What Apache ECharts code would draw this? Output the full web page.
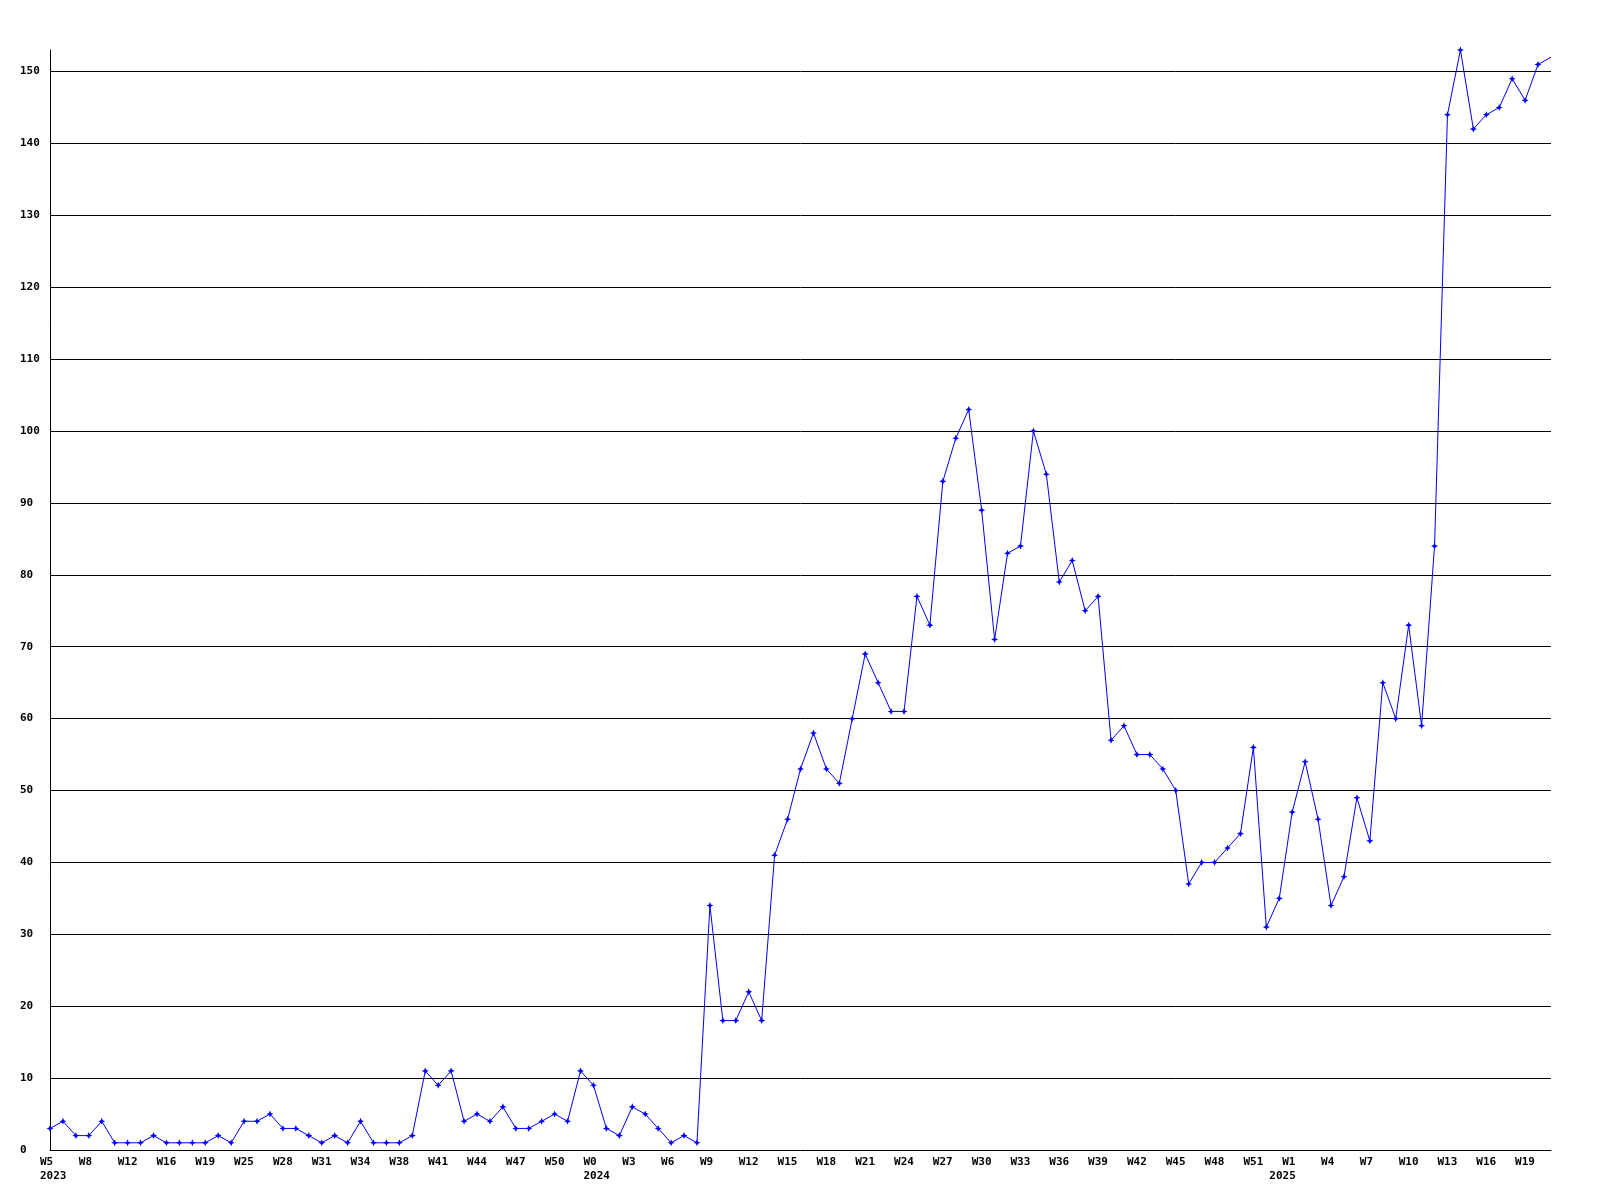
<!DOCTYPE html>
<html>
<head>
<meta charset="utf-8">
<script src="https://cdn.jsdelivr.net/npm/echarts@6/dist/echarts.min.js"></script>
<style>
  html, body { margin: 0; padding: 0; background: #ffffff; }
  #chart { width: 1600px; height: 1200px; }
</style>
</head>
<body>
<div id="chart"></div>
<script>
// Week categories (one per data point); only every third one is labelled
const weeks = [
  'W5','W6','W7','W8','W9','W10','W12','W13','W14','W16','W17','W18','W19','W20','W22',
  'W25','W26','W27','W28','W29','W30','W31','W32','W33','W34','W35','W36','W38','W39','W40',
  'W41','W42','W43','W44','W45','W46','W47','W48','W49','W50','W51','W52',
  'W0','W1','W2','W3','W4','W5','W6','W7','W8','W9','W10','W11','W12','W13','W14','W15',
  'W16','W17','W18','W19','W20','W21','W22','W23','W24','W25','W26','W27','W28','W29','W30',
  'W31','W32','W33','W34','W35','W36','W37','W38','W39','W40','W41','W42','W43','W44','W45',
  'W46','W47','W48','W49','W50','W51','W52',
  'W0','W1','W2','W3','W4','W5','W6','W7','W8','W9','W10','W11','W12','W13','W14','W15',
  'W16','W17','W18','W19','W20','W21'
];

// Year captions and the category index where each year starts
const yearStarts = [0, 42, 95];
const yearLabels = ['2023', '2024', '2025'];

// Weekly values
const values = [
  3, 4, 2, 2, 4, 1, 1, 1, 2, 1, 1, 1, 1, 2, 1,
  4, 4, 5, 3, 3, 2, 1, 2, 1, 4, 1, 1, 1, 2, 11,
  9, 11, 4, 5, 4, 6, 3, 3, 4, 5, 4, 11,
  9, 3, 2, 6, 5, 3, 1, 2, 1, 34, 18, 18, 22, 18, 41, 46,
  53, 58, 53, 51, 60, 69, 65, 61, 61, 77, 73, 93, 99, 103, 89,
  71, 83, 84, 100, 94, 79, 82, 75, 77, 57, 59, 55, 55, 53, 50,
  37, 40, 40, 42, 44, 56, 31,
  35, 47, 54, 46, 34, 38, 49, 43, 65, 60, 73, 59, 84, 144, 153, 142,
  144, 145, 149, 146, 151, 152
];

// Y axis tick settings
const yMin = 0;
const yMax = 153;
const yInterval = 10;

const fontFamily = '"DejaVu Sans Mono", "Liberation Mono", monospace';
const labelStyle = {
  fontFamily: fontFamily,
  fontWeight: 'bold',
  fontSize: 11,
  color: '#000000',
  lineHeight: 14
};

const chart = echarts.init(document.getElementById('chart'), null, { renderer: 'canvas' });

const lastIndex = values.length - 1;

chart.setOption({
  animation: false,
  backgroundColor: '#ffffff',
  grid: { left: 50, right: 49, top: 50, bottom: 50, containLabel: false },
  xAxis: {
    type: 'category',
    data: weeks,
    boundaryGap: false,
    axisLine: { show: true, lineStyle: { color: '#000000', width: 1 } },
    axisTick: { show: false },
    splitLine: { show: false },
    axisLabel: {
      margin: 5,
      interval: function (idx) {
        return idx % 3 === 0 || yearStarts.indexOf(idx) >= 0;
      },
      formatter: function (val, idx) {
        const yi = yearStarts.indexOf(idx);
        const wk = (idx % 3 === 0) ? val : ' ';
        if (yi >= 0) {
          return '{w|' + wk + '}\n{w|' + yearLabels[yi] + '}';
        }
        return '{w|' + wk + '}';
      },
      rich: {
        w: Object.assign({ width: 20, align: 'left' }, labelStyle)
      }
    }
  },
  yAxis: {
    type: 'value',
    min: yMin,
    max: yMax,
    interval: yInterval,
    axisLine: { show: true, lineStyle: { color: '#000000', width: 1 } },
    axisTick: { show: false },
    splitLine: {
      show: true,
      showMinLine: false,
      showMaxLine: false,
      lineStyle: { color: '#000000', width: 1, type: 'solid' }
    },
    axisLabel: Object.assign({
      margin: 30,
      align: 'left',
      showMaxLabel: false
    }, labelStyle)
  },
  series: [{
    type: 'line',
    data: values,
    symbol: function (v, params) {
      return params.dataIndex === lastIndex ? 'none' : 'path://M3,0 L3.9,2.1 L6,3 L3.9,3.9 L3,6 L2.1,3.9 L0,3 L2.1,2.1 Z';
    },
    symbolSize: 7,
    showAllSymbol: true,
    lineStyle: { color: '#0000ff', width: 1 },
    itemStyle: { color: '#0000ff' },
    emphasis: { disabled: true },
    clip: false
  }]
});
</script>
</body>
</html>
